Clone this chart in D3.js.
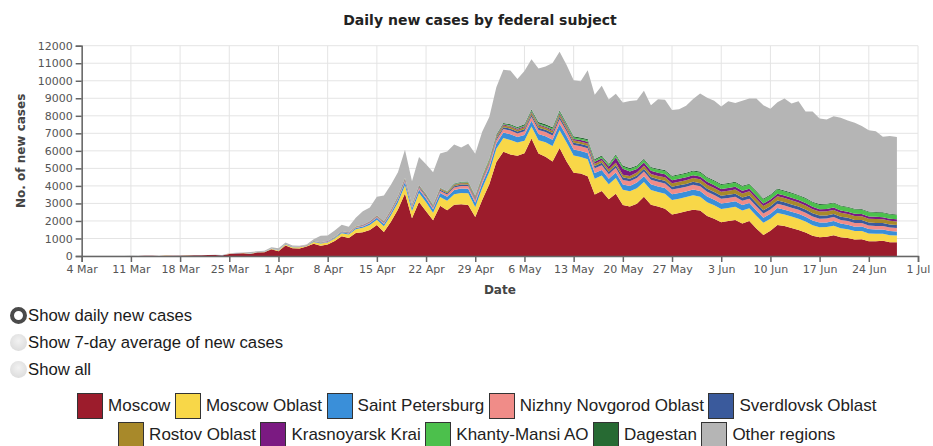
<!DOCTYPE html>
<html>
    <head>
    <meta charset="UTF-8">
    <style>
        body { margin: 0; background: #fff; overflow: hidden; font-family: "Liberation Sans", Arial, sans-serif; }
        svg { position: absolute; left: 0; top: 0; }
        svg text { font-family: "DejaVu Sans", sans-serif; }
        .grid line { stroke: #e4e4e4; stroke-width: 1; }
        .axis path, .axis line { stroke: #666; stroke-width: 1.5; }
        .axis text { fill: #555; font-size: 11px; }
        #chartTitle { font-size: 14px; font-weight: bold; fill: #222; text-anchor: middle; }
        .axisLabel { font-size: 12px; font-weight: bold; fill: #444; text-anchor: middle; }
        #controls { position: absolute; left: 10px; top: 302px; font-size: 16.7px; color: #1a1a1a; }
        #controls label { display: flex; align-items: center; height: 27px; }
        #controls input { -webkit-appearance: none; appearance: none; width: 17px; height: 17px; border-radius: 50%;
            margin: 0 1px 0 0; background: radial-gradient(circle at 50% 40%, #f2f2f2, #d6d6d6); box-sizing: border-box; }
        #controls input:checked { background: #fff; border: 4.5px solid #4a4a4a; }
        .legendRow { position: absolute; left: 0; width: 958px; height: 27px; display: flex; justify-content: center;
            align-items: center; font-size: 17px; color: #222; }
        .swatch { width: 24px; height: 24px; border: 1.5px solid #333; margin-right: 5px; }
        .legendItem { display: flex; align-items: center; margin-right: 4.5px; white-space: nowrap; }
    </style>
    </head>
    <body>
        <svg></svg>
        <div id="controls"></div>
        <div id="legend"></div>
        <script src="https://d3js.org/d3.v7.min.js"></script>

        <script>

        let width = 933, height = 300;
        let margin = {top: 45.7, right: 15, bottom: 44, left: 81.7}

        // data: daily new cases, 4 Mar .. 28 Jun 2020 (months split by line)
        var totalCases = [
            0,1,6,0,3,0,3,8,6,17,14,4,30,21,33,52,54,53,61,71,57,163,182,196,228,270,302,501,
            440,771,601,582,658,954,1154,1175,1459,1786,1667,2186,2558,2774,3388,3448,4070,4785,6060,4268,5642,5236,4774,5849,5966,6361,6198,6411,5841,7099,
            7933,9623,10633,10581,10102,10559,11231,10699,10817,11012,11656,10899,10028,9974,10598,9200,9709,8926,9263,8764,8849,8894,9434,8599,8946,8915,8338,8371,8572,8952,9268,
            9035,8863,8536,8831,8726,8855,8984,8985,8595,8404,8779,8987,8706,8835,8246,8248,7843,7790,7972,7889,7728,7600,7425,7176,7113,6800,6852,6791]
        var moscow = [
            0,0,5,0,1,0,2,6,6,12,9,2,20,14,13,33,38,39,54,56,28,120,136,157,114,197,212,387,
            267,595,448,434,536,697,591,660,857,1124,1030,1306,1355,1489,1774,1370,1959,2649,3570,2151,3083,2548,2043,2871,2612,2930,2957,2904,2220,3216,
            4100,5358,5948,5795,5714,5858,6703,5846,5667,5392,6169,5392,4748,4703,4555,3505,3712,3238,3545,2913,2830,2988,3375,2930,2830,2699,2367,2458,2560,2640,2595,
            2286,2120,1921,1995,2054,1854,1993,1572,1195,1436,1774,1706,1600,1489,1348,1161,1065,1097,1190,1068,1026,940,958,840,844,866,791,782]
        var moscowOblast = [
            0,0,0,0,0,0,0,1,0,1,2,0,3,2,5,4,3,6,3,4,7,10,12,9,15,14,20,26,
            40,55,48,60,40,95,120,105,135,170,190,225,250,285,300,330,360,410,470,420,510,520,430,500,540,600,640,670,580,660,
            700,760,780,820,760,720,680,760,820,880,1000,1080,980,950,960,900,880,860,900,870,860,880,850,840,820,860,830,810,800,820,790,
            780,770,760,750,760,740,730,720,700,690,680,660,650,640,620,600,580,560,540,520,500,480,470,450,430,410,400,390]
        var saintPetersburg = [
            0,0,0,0,0,0,0,0,0,0,1,0,2,1,1,2,3,2,2,4,3,5,6,4,8,9,10,12,
            15,20,18,22,25,30,35,40,45,55,60,70,80,90,110,120,140,160,190,170,200,210,190,220,230,240,250,260,240,270,
            280,300,320,330,310,320,330,350,340,360,380,370,350,340,360,330,320,310,320,300,310,320,330,320,320,320,330,330,320,330,330,
            330,320,320,310,310,310,300,300,290,290,290,280,280,280,270,270,260,260,270,260,260,250,250,250,240,240,240,230]
        var nizhnyNovgorod = [
            0,0,0,0,0,0,0,0,0,0,0,0,0,0,0,0,0,0,0,0,0,1,0,1,2,1,2,3,
            4,5,6,8,10,12,15,18,20,25,30,35,40,50,55,60,70,80,90,85,100,110,100,120,130,140,150,160,150,170,
            180,190,200,210,210,220,230,240,250,250,260,270,260,270,280,270,270,260,270,260,260,260,270,260,260,260,270,270,270,270,270,
            270,270,260,260,260,250,250,250,240,240,240,240,230,230,230,220,220,220,220,210,210,210,200,200,200,190,190,190]
        var sverdlovsk = [
            0,0,0,0,0,0,0,0,0,0,0,0,0,0,0,0,0,0,0,0,0,0,1,0,2,2,2,3,
            3,4,5,6,8,10,12,14,15,18,20,24,26,30,35,38,40,45,50,48,55,60,55,65,70,75,80,85,80,90,
            95,100,105,110,110,115,120,125,120,130,135,130,130,125,130,130,135,140,140,145,145,150,150,155,155,160,160,165,165,170,170,
            175,170,175,180,175,180,180,185,180,180,185,180,185,180,180,185,180,180,180,175,180,175,175,170,175,170,170,170]
        var rostov = [
            0,0,0,0,0,0,0,0,0,0,0,0,0,0,0,0,0,0,0,0,0,0,0,0,1,0,1,2,
            2,3,3,4,5,6,8,10,12,14,16,18,20,24,28,30,35,40,45,40,50,55,50,60,65,70,75,80,75,85,
            90,95,100,105,100,110,115,120,115,125,130,125,130,135,140,135,140,145,150,155,160,170,175,180,185,190,200,205,210,220,225,
            230,230,235,230,240,235,240,240,245,240,245,240,240,235,240,235,230,235,230,230,225,225,220,220,220,215,215,210]
        var krasnoyarsk = [
            0,0,0,0,0,0,0,0,0,0,0,0,0,0,0,0,0,0,0,0,0,0,0,0,0,0,1,1,
            1,1,2,2,3,3,4,5,5,6,7,8,9,10,12,14,15,16,18,17,20,22,20,24,25,28,30,32,30,35,
            38,40,45,48,50,55,60,65,65,70,75,80,85,90,100,110,120,150,300,330,260,200,180,175,175,170,170,165,165,160,160,
            160,160,155,155,150,150,150,150,145,145,145,140,140,140,140,135,135,135,135,130,130,130,130,125,125,125,125,120]
        var khantyMansi = [
            0,0,0,0,0,0,0,0,0,0,0,0,0,0,0,0,0,0,0,0,0,0,0,0,0,0,0,0,
            0,0,0,1,1,1,2,2,3,3,4,5,6,7,8,10,12,14,16,15,18,20,18,22,24,26,28,30,28,32,
            35,38,40,45,48,50,55,60,62,65,70,72,75,78,80,85,90,100,110,120,130,140,150,160,170,180,190,200,205,210,215,
            220,220,225,225,230,230,230,235,235,235,240,240,240,240,240,240,245,245,245,245,240,240,240,235,235,235,230,230]
        var dagestan = [
            0,0,0,0,0,0,0,0,0,0,0,0,0,0,0,0,0,0,0,0,0,0,0,0,0,0,0,0,
            0,0,0,0,1,1,1,2,2,2,3,3,4,5,5,6,7,8,10,9,12,14,15,18,20,22,25,28,30,35,
            40,45,50,55,60,65,70,75,75,80,80,75,75,70,70,68,66,65,65,64,64,63,63,62,62,62,61,61,61,60,60,
            60,60,58,58,56,56,55,55,54,54,53,52,52,51,50,50,49,48,48,47,46,46,45,45,44,44,43,42]

        var regions = ["Moscow","Moscow Oblast","Saint Petersburg","Nizhny Novgorod Oblast","Sverdlovsk Oblast",
            "Rostov Oblast","Krasnoyarsk Krai","Khanty-Mansi AO","Dagestan","Other regions"]
        var regionColors = ["#9c1c2c","#f8d748","#3a8fd9","#f08c88","#3a5a9c",
            "#a8892a","#7b1a82","#4cc04c","#276a33","#b5b5b5"]
        var xTickLabels = ["4 Mar","11 Mar","18 Mar","25 Mar","1 Apr","8 Apr","15 Apr","22 Apr","29 Apr",
            "6 May","13 May","20 May","27 May","3 Jun","10 Jun","17 Jun","24 Jun","1 Jul"]
        var yTicks = [0,1000,2000,3000,4000,5000,6000,7000,8000,9000,10000,11000,12000]
        var radioLabels = ["Show daily new cases","Show 7-day average of new cases","Show all"]

        //Data preparation
        var parseDay = d3.timeParse("%d %b %Y")
        var dates = d3.timeDay.range(parseDay("4 Mar 2020"), parseDay("29 Jun 2020"))
        var named = [moscow,moscowOblast,saintPetersburg,nizhnyNovgorod,sverdlovsk,rostov,krasnoyarsk,khantyMansi,dagestan]
        var table = dates.map((d,i) => {
            var row = {date: d}
            var sum = 0
            named.forEach((s,k) => { row[regions[k]] = s[i]; sum += s[i] })
            row["Other regions"] = Math.max(0, totalCases[i] - sum)
            return row
        })

        let svg = d3.select("svg")
            .attr("width", width)
            .attr("height", height)

        let xScale = d3.scaleTime()
            .domain([parseDay("4 Mar 2020"), parseDay("1 Jul 2020")])
            .range([margin.left, width - margin.right])
        let yScale = d3.scaleLinear()
            .domain([0, 12000])
            .range([height - margin.bottom, margin.top])
        var xTicks = xTickLabels.map(t => parseDay(t + " 2020"))

        //grid
        var grid = svg.append("g").attr("class", "grid")
        grid.selectAll(".v").data(xTicks).enter().append("line")
            .attr("x1", d => xScale(d)).attr("x2", d => xScale(d))
            .attr("y1", margin.top).attr("y2", height - margin.bottom)
        grid.selectAll(".h").data(yTicks).enter().append("line")
            .attr("x1", margin.left).attr("x2", width - margin.right)
            .attr("y1", d => yScale(d)).attr("y2", d => yScale(d))

        //stacked areas
        var stack = d3.stack().keys(regions)(table)
        var area = d3.area()
            .x(d => xScale(d.data.date))
            .y0(d => yScale(d[0]))
            .y1(d => yScale(d[1]))
        svg.append("g")
            .selectAll("path")
            .data(stack)
            .enter()
            .append("path")
            .attr("d", area)
            .attr("fill", (d,i) => regionColors[i])

        //axes
        svg.append("g")
            .attr("class", "axis")
            .attr("transform", `translate(0, ${height - margin.bottom})`)
            .call(d3.axisBottom(xScale).tickValues(xTicks).tickFormat((d,i) => xTickLabels[i]))
        svg.append("g")
            .attr("class", "axis")
            .attr("transform", `translate(${margin.left}, 0)`)
            .call(d3.axisLeft(yScale).tickValues(yTicks).tickFormat(d3.format("d")))

        //title and labels
        svg.append("text")
            .attr("id", "chartTitle")
            .attr("x", 480)
            .attr("y", 25)
            .text("Daily new cases by federal subject");
        svg.append("text")
            .attr("class", "axisLabel")
            .attr("x", (margin.left + width - margin.right) / 2)
            .attr("y", 294)
            .text("Date");
        svg.append("text")
            .attr("class", "axisLabel")
            .attr("transform", `translate(25, ${(margin.top + height - margin.bottom) / 2}) rotate(-90)`)
            .text("No. of new cases");

        //radio buttons
        var labels = d3.select("#controls").selectAll("label")
            .data(radioLabels)
            .enter().append("label")
        labels.append("input")
            .attr("type", "radio")
            .attr("name", "mode")
            .property("checked", (d,i) => i === 0)
        labels.append("span").text(d => d)

        //legend, two rows
        var rows = [regions.slice(0,5), regions.slice(5)]
        var legendRows = d3.select("#legend").selectAll(".legendRow")
            .data(rows)
            .enter().append("div")
            .attr("class", "legendRow")
            .style("top", (d,i) => (i === 0 ? 392.3 : 421.7) + "px")
        var items = legendRows.selectAll(".legendItem")
            .data(d => d)
            .enter().append("div")
            .attr("class", "legendItem")
        items.append("div")
            .attr("class", "swatch")
            .style("background", d => regionColors[regions.indexOf(d)])
        items.append("span").text(d => d)

        </script>

    </body>
</html>
